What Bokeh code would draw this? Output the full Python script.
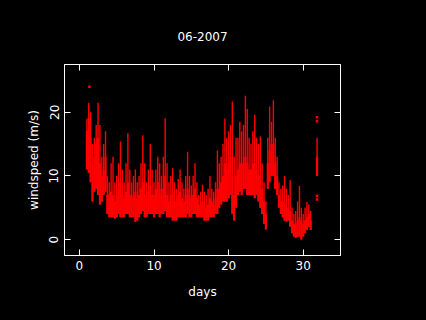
from bokeh.plotting import figure
from bokeh.models import LinearAxis, FixedTicker, Range1d
from bokeh.embed import file_html
from bokeh.resources import INLINE

# 6-hourly bins: day, lowest value, top of dense core, highest value
day = [1.00, 1.25, 1.50, 1.75, 2.00, 2.25, 2.50, 2.75, 3.00, 3.25, 3.50, 3.75,
       4.00, 4.25, 4.50, 4.75, 5.00, 5.25, 5.50, 5.75, 6.00, 6.25, 6.50, 6.75,
       7.00, 7.25, 7.50, 7.75, 8.00, 8.25, 8.50, 8.75, 9.00, 9.25, 9.50, 9.75,
       10.00, 10.25, 10.50, 10.75, 11.00, 11.25, 11.50, 11.75, 12.00, 12.25, 12.50, 12.75,
       13.00, 13.25, 13.50, 13.75, 14.00, 14.25, 14.50, 14.75, 15.00, 15.25, 15.50, 15.75,
       16.00, 16.25, 16.50, 16.75, 17.00, 17.25, 17.50, 17.75, 18.00, 18.25, 18.50, 18.75,
       19.00, 19.25, 19.50, 19.75, 20.00, 20.25, 20.50, 20.75, 21.00, 21.25, 21.50, 21.75,
       22.00, 22.25, 22.50, 22.75, 23.00, 23.25, 23.50, 23.75, 24.00, 24.25, 24.50, 24.75,
       25.00, 25.25, 25.50, 25.75, 26.00, 26.25, 26.50, 26.75, 27.00, 27.25, 27.50, 27.75,
       28.00, 28.25, 28.50, 28.75, 29.00, 29.25, 29.50, 29.75, 30.00, 30.25, 30.50, 30.75,
       31.00, 31.86]
low = [11, 10.5, 9, 6, 7.5, 8, 7, 5.5, 6, 7, 7.5, 4,
       3.5, 3.5, 3.5, 3.3, 3.5, 4, 3.5, 3.5, 3.5, 4, 4, 3.5,
       3.5, 3.5, 2.8, 3, 3.5, 4, 4.5, 3.5, 3.5, 4, 4, 4,
       3.5, 4, 4, 3.5, 4, 4, 4.5, 3.5, 3.5, 3.5, 3, 3,
       3, 3.5, 3.5, 3.5, 3.5, 3.5, 4, 3.5, 3.5, 4, 4, 3.5,
       3.5, 3.5, 3.5, 3, 3, 3, 3.5, 3.5, 3.5, 4, 4, 5,
       5.5, 6, 6, 6, 6.5, 7, 4, 3, 5, 7, 7.5, 7,
       8, 8, 7, 7, 7, 7, 6.5, 7, 6, 5, 4, 2.5,
       1.6, 8, 9, 10, 10, 8, 7, 5, 4, 3.5, 3, 2.8,
       3, 2, 1, 0.5, 0.3, 0.5, 0.5, 0, 0.5, 1, 1.5, 2,
       1.5, 10]
core = [17, 19, 16, 12, 13, 15, 16, 12, 10, 11, 13, 7,
        7, 7.5, 7, 6, 7, 8, 9, 7, 6.5, 7.5, 9, 7,
        6.5, 7, 7.5, 6.5, 7, 8, 9, 7, 6.5, 7.5, 8.5, 7,
        7, 8, 9, 8, 7, 8, 10, 7, 6, 7, 7.5, 6,
        6, 7, 7.5, 6.5, 6, 7, 8, 7, 6.5, 7, 8, 6.5,
        5.5, 5.5, 6, 5.5, 5, 5.5, 6.5, 6, 5.5, 6.5, 8, 8,
        9, 10, 12, 11, 12, 13, 10, 7, 10, 11, 12, 12,
        12, 13, 12, 11, 11, 12, 12, 11, 10, 10, 8, 6,
        4, 12, 14, 15, 15, 12, 10, 7, 6, 6, 6, 5,
        5, 4.5, 3, 2.5, 2.5, 3, 3.5, 3, 2.5, 3, 3.5, 4,
        3, 13]
high = [19, 21.5, 20, 15, 16, 18, 21.5, 18, 13, 15, 17, 10,
        9, 12, 13, 9, 10, 12, 15.4, 11, 9, 12, 16.7, 11,
        9, 10, 11, 9, 10, 12, 16.4, 12, 9, 11, 15, 11,
        9, 11, 13, 12, 10, 13, 19, 12, 9, 10, 11.2, 9,
        8, 9.5, 11, 9, 8, 10, 13.8, 10, 8.5, 10, 12, 9,
        7, 7.5, 8.6, 7.5, 7, 8, 10, 8, 7.5, 9, 14, 12,
        13, 15, 19, 16, 17, 18, 21.7, 13, 16, 16, 18.5, 17,
        18, 22.6, 20.5, 16, 15, 17, 19.6, 16, 15, 16.2, 12, 9,
        6, 16, 20.9, 18.5, 21.9, 16, 13, 9, 8, 8.5, 10, 8,
        7, 9.3, 5, 4, 4.5, 6, 8.4, 5, 4, 5, 5.9, 5.5,
        4.5, 16]
# isolated readings
out_day = [1.34, 31.86, 31.86, 31.86, 31.86]
out_val = [24.0, 6.3, 6.9, 18.6, 19.2]

x_ticks = [0, 10, 20, 30]
y_ticks = [0, 10, 20]
title_text = "06-2007"

FONT = "DejaVu Sans"
W = "#FFFFFF"
RED = "#FF0000"

p = figure(width=426, height=320, output_backend="svg", toolbar_location=None,
           x_range=Range1d(-2, 35), y_range=Range1d(-2.5, 27.5),
           min_border_left=64, min_border_right=86, min_border_top=64,
           min_border_bottom=65, x_axis_label="days",
           y_axis_label="windspeed (m/s)", title=title_text)

p.background_fill_color = "#000000"
p.border_fill_color = "#000000"
p.outline_line_color = W
p.outline_line_width = 1
p.xgrid.visible = False
p.ygrid.visible = False

p.title.align = "center"
p.title.vertical_align = "bottom"
p.title.text_color = W
p.title.text_font = FONT
p.title.text_font_size = "12px"
p.title.text_font_style = "normal"
p.title.standoff = 48

for ax in [p.xaxis[0], p.yaxis[0]]:
    ax.axis_line_color = W
    ax.major_tick_line_color = W
    ax.major_tick_in = 6
    ax.major_tick_out = 0
    ax.minor_tick_line_color = None
    ax.major_label_text_color = W
    ax.major_label_text_font = FONT
    ax.major_label_text_font_size = "12px"
    ax.axis_label_text_color = W
    ax.axis_label_text_font = FONT
    ax.axis_label_text_font_size = "12px"
    ax.axis_label_text_font_style = "normal"

p.xaxis[0].ticker = FixedTicker(ticks=x_ticks)
p.yaxis[0].ticker = FixedTicker(ticks=y_ticks)
p.xaxis[0].major_label_standoff = 5
p.xaxis[0].axis_label_standoff = 12
p.yaxis[0].major_label_orientation = "vertical"
p.yaxis[0].major_label_standoff = 6
p.yaxis[0].axis_label_standoff = 6

top = LinearAxis(ticker=FixedTicker(ticks=x_ticks))
right = LinearAxis(ticker=FixedTicker(ticks=y_ticks))
for ax in [top, right]:
    ax.axis_line_color = W
    ax.major_tick_line_color = W
    ax.major_tick_in = 6
    ax.major_tick_out = 0
    ax.minor_tick_line_color = None
    ax.major_label_text_color = None
    ax.major_label_text_font_size = "1px"
    ax.major_label_standoff = 0
p.add_layout(top, "above")
p.add_layout(right, "right")

p.segment(x0=day, y0=low, x1=day, y1=high, line_color=RED, line_width=1.4)
p.segment(x0=day, y0=low, x1=day, y1=core, line_color=RED, line_width=2.2)
p.scatter(out_day, out_val, marker="square", size=2.5, color=RED, line_color=None)

html = file_html(p, INLINE)
html = html.replace("<head>", "<head><style>html,body{background:#000;margin:0;}</style>", 1)
open("out.html", "w").write(html)
